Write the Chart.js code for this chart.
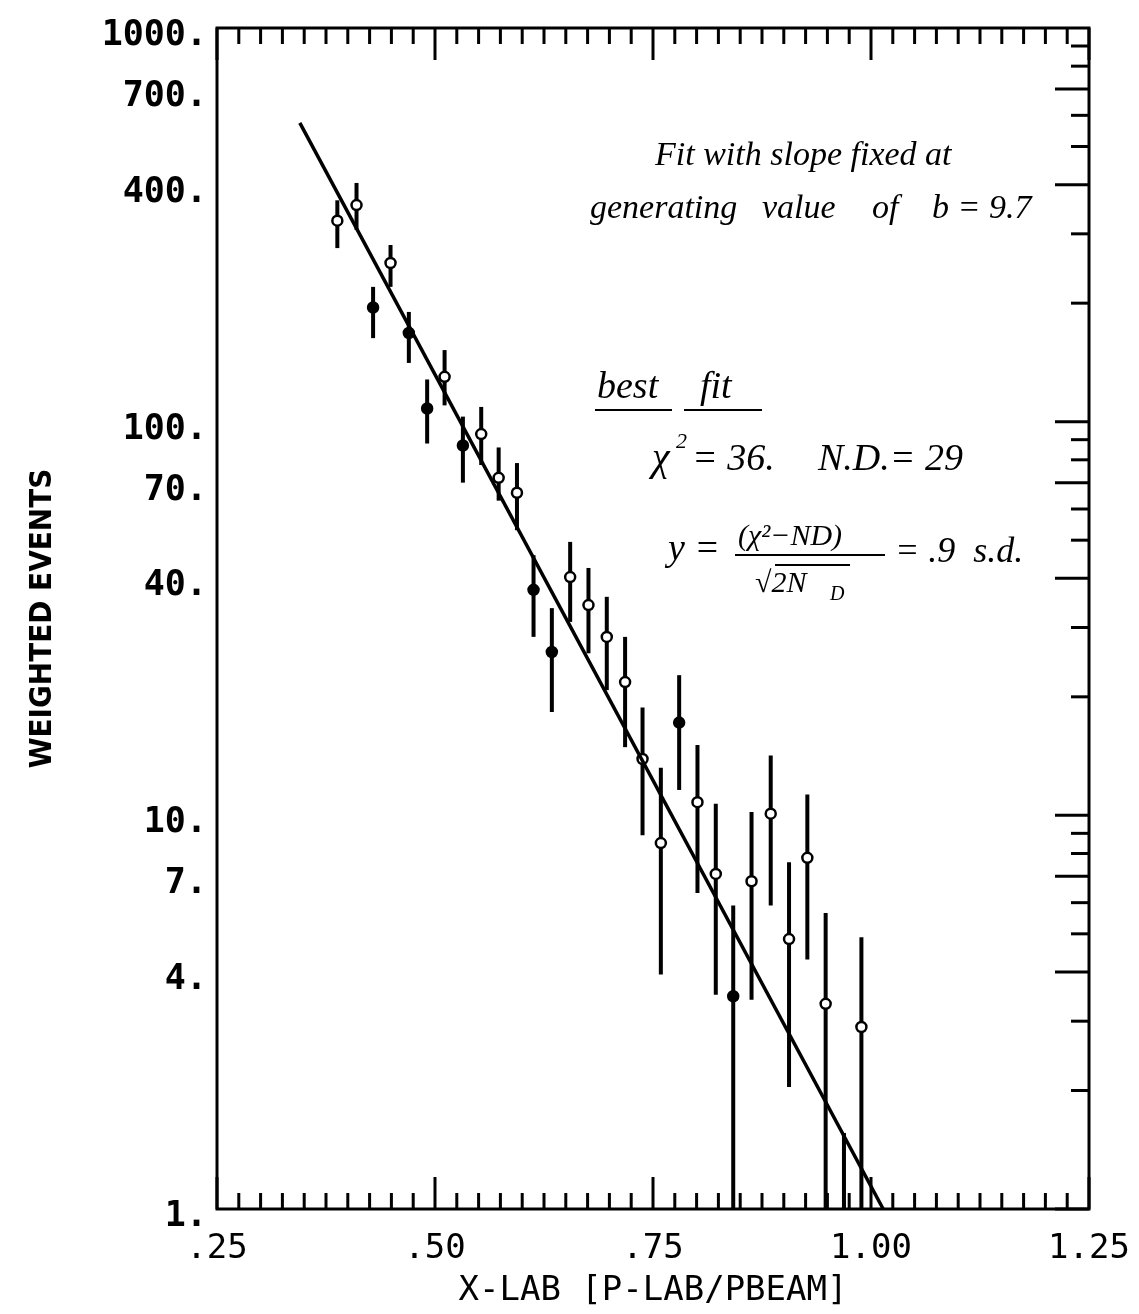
<!DOCTYPE html>
<html><head><meta charset="utf-8">
<script src="https://cdn.jsdelivr.net/npm/chart.js@4.4.0/dist/chart.umd.min.js"></script>
<style>html,body{margin:0;padding:0;background:#fff}#wrap{width:1139px;height:1314px;position:relative}</style>
</head><body><div id="wrap"><canvas id="c"></canvas></div>
<script>
// ---- data ----
const xValues = [0.388,0.410,0.429,0.449,0.470,0.491,0.511,0.532,0.553,0.573,0.594,0.613,0.634,0.655,0.676,0.697,0.718,0.738,0.759,0.780,0.801,0.822,0.842,0.863,0.885,0.906,0.927,0.948,0.969,0.989];
const yValues = [324,355,195,253,168,108,130,87,93,72,66,37.4,26,40.3,34.2,28.4,21.8,13.9,8.5,17.2,10.8,7.1,3.47,6.8,10.1,4.85,7.8,3.32,0.7,2.9];
const errHigh = [365,404,220,281,190,128,152,103,109,86,78.5,45.8,33.6,49.5,42.5,35.9,28.4,18.8,13.2,22.7,15.1,10.7,5.9,10.2,14.2,7.6,11.3,5.65,1.56,4.9];
const errLow  = [276,307,163,220,141,88,110,70,77.6,63,53,28.4,18.3,31,25.8,20.8,14.9,8.9,3.94,11.6,6.35,3.5,0.5,3.4,5.9,2.04,4.3,0.5,0.3,0.5];
const filledIdx = [2,4,5,7,11,12,19,22];
const fitX = [0.345, 1.014];
const fitY = [574, 1];
const xTickValues = [0.25,0.5,0.75,1.0,1.25];
const xTickLabels = ['.25','.50','.75','1.00','1.25'];
const yTickValues = [1,4,7,10,40,70,100,400,700,1000];
const yTickLabels = ['1.','4.','7.','10.','40.','70.','100.','400.','700.','1000.'];
const xTitle = 'X-LAB [P-LAB/PBEAM]';
const yTitle = 'WEIGHTED EVENTS';

const MONO = '"DejaVu Sans Mono", monospace';
const HAND = '"Liberation Serif", serif';

const decor = {
  id: 'decor',
  beforeDatasetsDraw(chart) {
    const {ctx, chartArea: a, scales: {x, y}} = chart;
    ctx.save();
    ctx.beginPath(); ctx.rect(a.left, a.top, a.right - a.left, a.bottom - a.top); ctx.clip();
    ctx.strokeStyle = '#000'; ctx.lineWidth = 4;
    for (let i = 0; i < xValues.length; i++) {
      const px = x.getPixelForValue(xValues[i]);
      ctx.beginPath();
      ctx.moveTo(px, y.getPixelForValue(errLow[i]));
      ctx.lineTo(px, y.getPixelForValue(errHigh[i]));
      ctx.stroke();
    }
    ctx.restore();
  },
  afterDraw(chart) {
    const {ctx, chartArea: a, scales: {x, y}} = chart;
    ctx.save();
    ctx.strokeStyle = '#000';
    ctx.lineWidth = 3;
    ctx.strokeRect(a.left, a.top, a.right - a.left, a.bottom - a.top);
    for (let i = 0; i <= 40; i++) {
      const v = 0.25 + i * 0.025;
      const px = x.getPixelForValue(v);
      const len = (i % 10 === 0) ? 32 : 16;
      ctx.beginPath();
      ctx.moveTo(px, a.top); ctx.lineTo(px, a.top + len);
      ctx.moveTo(px, a.bottom); ctx.lineTo(px, a.bottom - len);
      ctx.stroke();
    }
    for (const d of [1, 10, 100]) {
      for (let m = 1; m <= 9; m++) {
        const py = y.getPixelForValue(m * d);
        const len = (m === 1 || m === 4 || m === 7) ? 34 : 18;
        ctx.beginPath(); ctx.moveTo(a.right, py); ctx.lineTo(a.right - len, py); ctx.stroke();
      }
    }
    ctx.fillStyle = '#000';
    ctx.textBaseline = 'alphabetic';
    ctx.textAlign = 'left';
    ctx.font = 'italic 34px ' + HAND;
    ctx.fillText('Fit with slope fixed at', 655, 165);
    ctx.fillText('generating', 590, 218);
    ctx.fillText('value', 762, 218);
    ctx.fillText('of', 872, 218);
    ctx.fillText('b = 9.7', 932, 218);
    ctx.font = 'italic 38px ' + HAND;
    ctx.fillText('best', 597, 398);
    ctx.fillText('fit', 700, 398);
    ctx.lineWidth = 2;
    ctx.beginPath();
    ctx.moveTo(595, 410); ctx.lineTo(672, 410);
    ctx.moveTo(684, 410); ctx.lineTo(762, 410);
    ctx.stroke();
    ctx.font = 'italic 40px ' + HAND;
    ctx.fillText('\u03C7', 652, 470);
    ctx.font = 'italic 22px ' + HAND;
    ctx.fillText('2', 676, 448);
    ctx.font = 'italic 38px ' + HAND;
    ctx.fillText('= 36.', 692, 470);
    ctx.fillText('N.D.= 29', 818, 470);
    ctx.fillText('y =', 668, 560);
    ctx.font = 'italic 30px ' + HAND;
    ctx.fillText('(\u03C7\u00B2\u2212ND)', 738, 545);
    ctx.beginPath(); ctx.moveTo(735, 555); ctx.lineTo(885, 555); ctx.stroke();
    ctx.fillText('\u221A2N', 755, 592);
    ctx.beginPath(); ctx.moveTo(775, 565); ctx.lineTo(850, 565); ctx.stroke();
    ctx.font = 'italic 20px ' + HAND;
    ctx.fillText('D', 830, 600);
    ctx.font = 'italic 36px ' + HAND;
    ctx.fillText('= .9  s.d.', 895, 562);
    ctx.restore();
  }
};

const pts = xValues.map((v, i) => ({x: v, y: yValues[i]}));
const fit = fitX.map((v, i) => ({x: v, y: fitY[i]}));

new Chart(document.getElementById('c'), {
  type: 'scatter',
  data: {
    datasets: [
      {
        type: 'line', data: fit, borderColor: '#000', borderWidth: 3.5,
        pointRadius: 0, fill: false, tension: 0
      },
      {
        data: pts, pointRadius: 5, pointBorderWidth: 2.5,
        pointBorderColor: '#000',
        pointBackgroundColor: pts.map((p, i) => filledIdx.includes(i) ? '#000' : '#fff')
      }
    ]
  },
  options: {
    responsive: true, maintainAspectRatio: false, animation: false,
    layout: {padding: {left: 0, top: 28, right: 50, bottom: 0}},
    plugins: {legend: {display: false}, tooltip: {enabled: false}},
    scales: {
      x: {
        type: 'linear', min: 0.25, max: 1.25,
        afterBuildTicks: s => { s.ticks = xTickValues.map(v => ({value: v})); },
        afterFit: s => { s.height = 105; s.paddingLeft = 0; s.paddingRight = 0; },
        grid: {display: false, drawTicks: false},
        border: {display: false},
        ticks: {
          autoSkip: false, maxRotation: 0, padding: 20, color: '#000',
          font: {family: MONO, size: 34},
          callback: v => xTickLabels[xTickValues.indexOf(v)]
        },
        title: {display: true, text: xTitle, color: '#000',
          font: {family: MONO, size: 34}, padding: {top: 0, bottom: 2}}
      },
      y: {
        type: 'logarithmic', min: 1, max: 1000,
        afterBuildTicks: s => { s.ticks = yTickValues.map(v => ({value: v})); },
        afterFit: s => { s.width = 217; s.paddingTop = 0; s.paddingBottom = 0; },
        grid: {display: false, drawTicks: false},
        border: {display: false},
        ticks: {
          autoSkip: false, padding: 10, color: '#000', labelOffset: 8,
          font: {family: MONO, size: 35, weight: 'bold'},
          callback: v => yTickLabels[yTickValues.indexOf(v)]
        },
        title: {display: true, text: yTitle, color: '#000',
          font: {family: '"DejaVu Sans Condensed", "DejaVu Sans"', size: 31, weight: 'bold'},
          padding: {top: 24, bottom: 0}}
      }
    }
  },
  plugins: [decor]
});
</script>
</body></html>
